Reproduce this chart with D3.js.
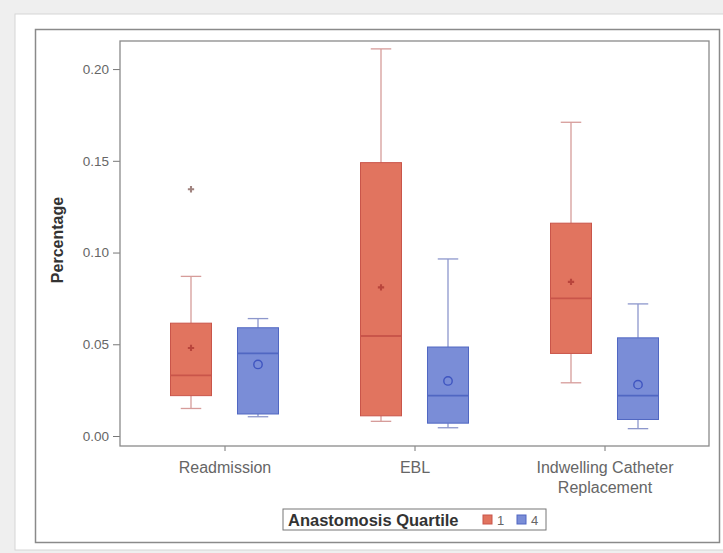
<!DOCTYPE html>
<html>
<head>
<meta charset="utf-8">
<script src="https://cdn.jsdelivr.net/npm/d3@7"></script>
<style>
  body { margin: 0; background: #efefef; }
  svg text { font-family: "Liberation Sans", Arial, sans-serif; }
</style>
</head>
<body>
<svg id="chart" width="723" height="553"></svg>
<script>
// categorie e gruppi
const categories = ["Readmission", "EBL", "Indwelling Catheter Replacement"];
const quartiles = ["1", "4"];
const yTicks = [0.00, 0.05, 0.10, 0.15, 0.20];

// statistiche quartile 1
const minQ1 = [0.015, 0.008, 0.029];
const p25Q1 = [0.022, 0.011, 0.045];
const medQ1 = [0.033, 0.0545, 0.075];
const p75Q1 = [0.0615, 0.149, 0.116];
const maxQ1 = [0.087, 0.211, 0.171];
const meanQ1 = [0.048, 0.081, 0.084];
const outQ1 = [[0.1345], [], []];

// statistiche quartile 4
const minQ4 = [0.0105, 0.0045, 0.004];
const p25Q4 = [0.012, 0.007, 0.009];
const medQ4 = [0.045, 0.022, 0.022];
const p75Q4 = [0.059, 0.0485, 0.0535];
const maxQ4 = [0.064, 0.0965, 0.072];
const meanQ4 = [0.039, 0.030, 0.028];
const outQ4 = [[], [], []];

const stats = {
  "1": { min: minQ1, p25: p25Q1, med: medQ1, p75: p75Q1, max: maxQ1, mean: meanQ1, out: outQ1 },
  "4": { min: minQ4, p25: p25Q4, med: medQ4, p75: p75Q4, max: maxQ4, mean: meanQ4, out: outQ4 }
};

const fills = { "1": "#e1745f", "4": "#7a8dd7" };
const lines = { "1": "#c9554a", "4": "#5067c2" };
const whisk = { "1": "#d69c9a", "4": "#8d97cc" };

const svg = d3.select("#chart");

// sfondo pagina e cornici
svg.append("rect").attr("x", 15).attr("y", 14).attr("width", 720).attr("height", 536)
  .attr("fill", "#fff").attr("stroke", "#d6d6d6");
svg.append("rect").attr("x", 35.5).attr("y", 29.5).attr("width", 684).attr("height", 513)
  .attr("fill", "#fff").attr("stroke", "#8a8a8a").attr("stroke-width", 1.5);

const plotL = 120, plotR = 709, plotT = 41, plotB = 446;

const y = d3.scaleLinear().domain([-0.00545, 0.2153]).range([plotB, plotT]);
const x = d3.scalePoint().domain(categories).range([plotL, plotR]).padding(0.55);
const dodge = d3.scaleBand().domain(quartiles).range([-54, 54]).paddingInner(0.388).paddingOuter(0);

// asse y
const yAxis = svg.append("g").attr("transform", "translate(" + plotL + ",0)")
  .call(d3.axisLeft(y).tickValues(yTicks).tickFormat(d3.format(".2f")).tickSize(7).tickPadding(4));
yAxis.select(".domain").remove();
yAxis.selectAll("line").attr("stroke", "#777");
yAxis.selectAll("text").attr("fill", "#666").style("font-size", "13.5px");

// asse x
const xAxis = svg.append("g").attr("transform", "translate(0," + plotB + ")")
  .call(d3.axisBottom(x).tickSize(5).tickPadding(11));
xAxis.select(".domain").remove();
xAxis.selectAll("line").attr("stroke", "#777");
xAxis.selectAll("text").attr("fill", "#666").style("font-size", "16px")
  .each(function (d) {
    if (d === "Indwelling Catheter Replacement") {
      const t = d3.select(this);
      t.text(null).attr("dy", null);
      t.append("tspan").attr("x", 0).attr("dy", "0.71em").text("Indwelling Catheter");
      t.append("tspan").attr("x", 0).attr("dy", "1.25em").text("Replacement");
    }
  });

// box plot
quartiles.forEach(function (q) {
  const s = stats[q];
  const bw = dodge.bandwidth();
  categories.forEach(function (c, i) {
    const cx = x(c) + dodge(q) + bw / 2;
    const g = svg.append("g");
    // baffi
    g.append("line").attr("x1", cx).attr("x2", cx).attr("y1", y(s.max[i])).attr("y2", y(s.p75[i]))
      .attr("stroke", whisk[q]).attr("stroke-width", 1.3);
    g.append("line").attr("x1", cx).attr("x2", cx).attr("y1", y(s.min[i])).attr("y2", y(s.p25[i]))
      .attr("stroke", whisk[q]).attr("stroke-width", 1.3);
    g.append("line").attr("x1", cx - bw / 4).attr("x2", cx + bw / 4).attr("y1", y(s.max[i])).attr("y2", y(s.max[i]))
      .attr("stroke", whisk[q]).attr("stroke-width", 1.3);
    g.append("line").attr("x1", cx - bw / 4).attr("x2", cx + bw / 4).attr("y1", y(s.min[i])).attr("y2", y(s.min[i]))
      .attr("stroke", whisk[q]).attr("stroke-width", 1.3);
    // scatola
    g.append("rect").attr("x", cx - bw / 2).attr("width", bw)
      .attr("y", y(s.p75[i])).attr("height", y(s.p25[i]) - y(s.p75[i]))
      .attr("fill", fills[q]).attr("stroke", lines[q]).attr("stroke-width", 1);
    // mediana
    g.append("line").attr("x1", cx - bw / 2).attr("x2", cx + bw / 2).attr("y1", y(s.med[i])).attr("y2", y(s.med[i]))
      .attr("stroke", lines[q]).attr("stroke-width", 1.8);
    // media
    if (q === "1") {
      g.append("path").attr("d", d3.symbol(d3.symbolCross, 22)())
        .attr("transform", "translate(" + cx + "," + y(s.mean[i]) + ")")
        .attr("fill", "#b9453c");
    } else {
      g.append("circle").attr("cx", cx).attr("cy", y(s.mean[i])).attr("r", 4.2)
        .attr("fill", "none").attr("stroke", "#3f55c0").attr("stroke-width", 1.4);
    }
    // valori anomali
    s.out[i].forEach(function (v) {
      g.append("path").attr("d", d3.symbol(d3.symbolCross, 22)())
        .attr("transform", "translate(" + cx + "," + y(v) + ")")
        .attr("fill", "#a0837f");
    });
  });
});

// cornice area grafico
svg.append("rect").attr("x", plotL).attr("y", plotT).attr("width", plotR - plotL).attr("height", plotB - plotT)
  .attr("fill", "none").attr("stroke", "#8a8a8a").attr("stroke-width", 1.3);

// titolo asse y
svg.append("text").attr("transform", "translate(63,240) rotate(-90)")
  .attr("text-anchor", "middle").style("font-size", "16px").style("font-weight", "bold")
  .attr("fill", "#333").text("Percentage");

// legenda
const leg = svg.append("g").attr("transform", "translate(283,509)");
leg.append("rect").attr("width", 263).attr("height", 21)
  .attr("fill", "#fff").attr("stroke", "#777");
leg.append("text").attr("x", 5).attr("y", 16.5).style("font-size", "16.5px").style("font-weight", "bold")
  .attr("fill", "#333").text("Anastomosis Quartile");
quartiles.forEach(function (q, i) {
  const lx = 200 + i * 34;
  leg.append("rect").attr("x", lx).attr("y", 6).attr("width", 9).attr("height", 9)
    .attr("fill", fills[q]).attr("stroke", lines[q]);
  leg.append("text").attr("x", lx + 14).attr("y", 15.5).style("font-size", "13px")
    .attr("fill", "#666").text(q);
});
</script>
</body>
</html>
